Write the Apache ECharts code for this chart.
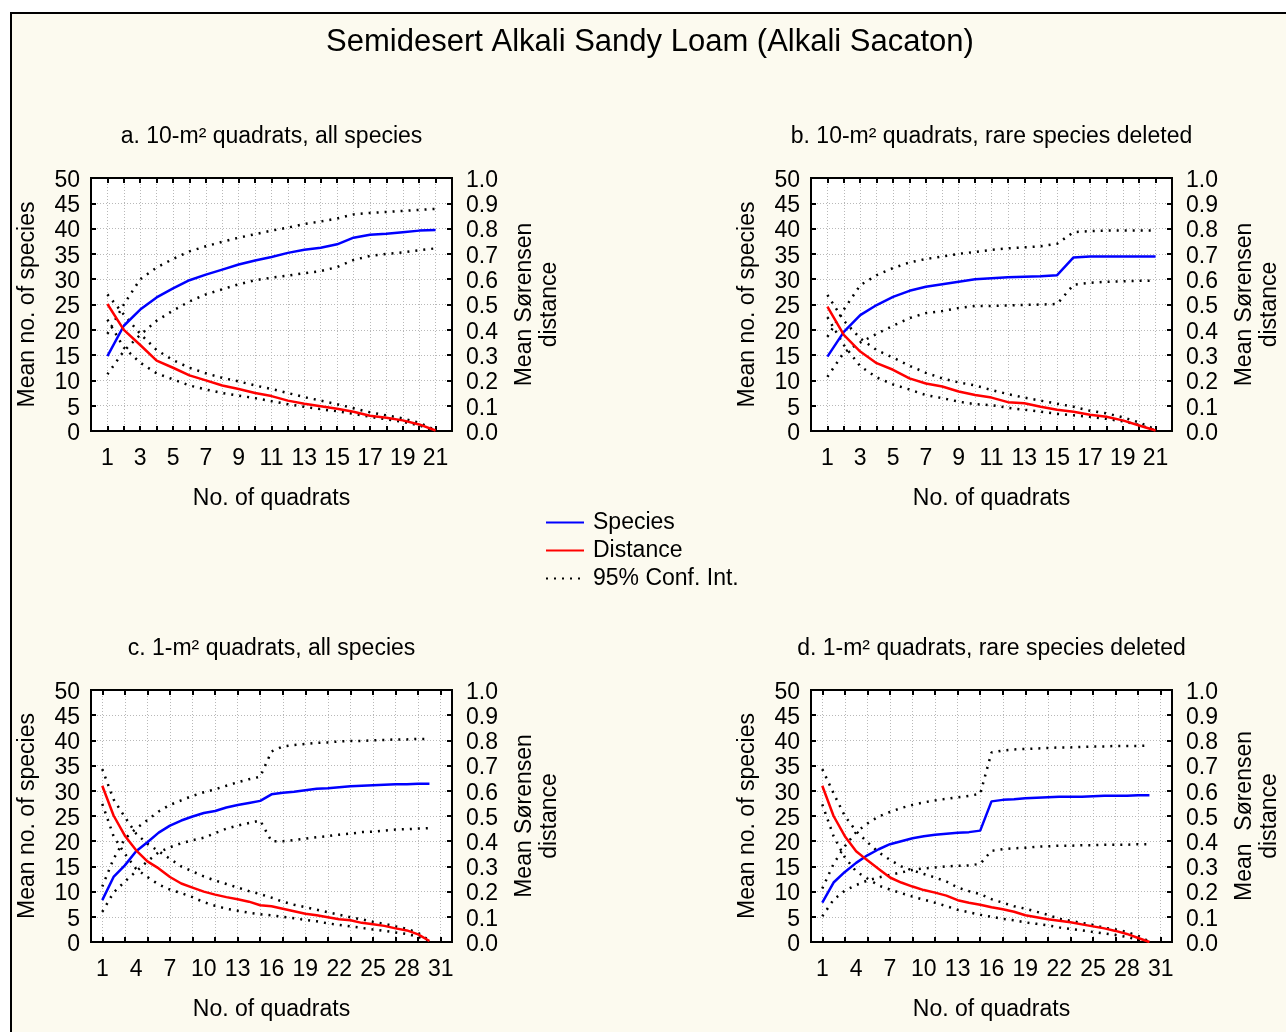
<!DOCTYPE html>
<html><head><meta charset="utf-8">
<script src="https://cdn.jsdelivr.net/npm/echarts@6/dist/echarts.min.js"></script>
<style>html,body{margin:0;padding:0;background:#fff}#chart{width:1286px;height:1032px}</style>
</head><body><div id="chart"></div>
<script>
// ---------- DATA ----------
const quadrats21 = [1,2,3,4,5,6,7,8,9,10,11,12,13,14,15,16,17,18,19,20,21];
const quadrats30 = [1,2,3,4,5,6,7,8,9,10,11,12,13,14,15,16,17,18,19,20,21,22,23,24,25,26,27,28,29,30];
const xLabels21 = [1,3,5,7,9,11,13,15,17,19,21];
const xLabels31 = [1,4,7,10,13,16,19,22,25,28,31];
const xTicks21 = [1,2,3,4,5,6,7,8,9,10,11,12,13,14,15,16,17,18,19,20,21];
const xTicks31 = [1,3,5,7,9,11,13,15,17,19,21,23,25,27,29,31];

const aSpecies = [14.8,20.8,24.0,26.4,28.2,29.8,30.9,31.9,32.9,33.7,34.4,35.2,35.8,36.2,36.9,38.2,38.8,39.0,39.3,39.6,39.7];
const aSpeciesUpper = [19.2,25.0,30.0,32.3,34.0,35.5,36.5,37.4,38.2,38.9,39.6,40.2,40.9,41.4,42.0,42.8,43.1,43.3,43.5,43.7,43.9];
const aSpeciesLower = [11.2,15.8,19.0,21.8,23.8,25.6,27.0,28.0,29.0,29.8,30.3,30.7,31.2,31.6,32.4,33.8,34.6,35.0,35.3,35.7,36.1];
const aDistance = [0.502,0.400,0.340,0.278,0.250,0.220,0.200,0.180,0.166,0.150,0.138,0.120,0.108,0.098,0.088,0.076,0.060,0.052,0.042,0.026,0.002];
const aDistanceUpper = [0.540,0.460,0.384,0.320,0.280,0.250,0.228,0.210,0.196,0.180,0.166,0.150,0.134,0.120,0.106,0.090,0.074,0.062,0.050,0.032,0.004];
const aDistanceLower = [0.440,0.330,0.270,0.228,0.204,0.180,0.164,0.150,0.140,0.130,0.118,0.106,0.096,0.086,0.078,0.068,0.056,0.046,0.036,0.022,0.000];

const bSpecies = [14.7,19.6,22.9,24.9,26.5,27.7,28.5,29.0,29.5,30.0,30.2,30.4,30.5,30.6,30.8,34.3,34.5,34.5,34.5,34.5,34.5];
const bSpeciesUpper = [18.6,24.0,28.8,30.8,32.2,33.3,34.0,34.5,35.0,35.4,35.8,36.1,36.3,36.5,37.0,39.3,39.5,39.6,39.6,39.6,39.6];
const bSpeciesLower = [10.7,15.5,17.5,19.2,20.8,22.3,23.3,23.7,24.3,24.7,24.7,24.8,24.9,25.0,25.1,28.9,29.3,29.5,29.6,29.7,29.7];
const bDistance = [0.492,0.380,0.314,0.268,0.242,0.208,0.188,0.176,0.156,0.142,0.132,0.114,0.110,0.096,0.084,0.076,0.064,0.056,0.042,0.022,0.002];
const bDistanceUpper = [0.538,0.436,0.366,0.320,0.290,0.258,0.230,0.208,0.192,0.180,0.162,0.146,0.132,0.120,0.108,0.096,0.080,0.070,0.054,0.034,0.006];
const bDistanceLower = [0.450,0.340,0.256,0.212,0.184,0.164,0.142,0.130,0.116,0.106,0.102,0.092,0.084,0.076,0.068,0.062,0.056,0.048,0.038,0.024,0.002];

const cSpecies = [8.3,12.9,15.2,18.0,19.8,21.7,23.1,24.1,24.9,25.6,26.0,26.7,27.2,27.6,28.0,29.3,29.6,29.8,30.1,30.4,30.5,30.7,30.9,31.0,31.1,31.2,31.3,31.3,31.4,31.4];
const cSpeciesUpper = [11.0,16.5,20.5,22.5,24.2,25.9,27.2,28.1,29.0,29.7,30.3,31.0,31.7,32.3,32.8,37.8,38.8,39.1,39.3,39.5,39.6,39.8,39.9,39.9,40.0,40.1,40.2,40.2,40.3,40.3];
const cSpeciesLower = [6.0,9.8,12.0,14.0,16.0,17.8,18.8,19.6,20.2,20.7,21.6,22.5,23.1,23.6,24.1,20.0,20.0,20.2,20.5,20.8,21.0,21.3,21.5,21.8,21.9,22.1,22.3,22.4,22.5,22.6];
const cDistance = [0.620,0.502,0.422,0.364,0.320,0.292,0.258,0.232,0.216,0.200,0.188,0.178,0.170,0.160,0.146,0.142,0.132,0.122,0.112,0.106,0.098,0.090,0.086,0.076,0.070,0.064,0.054,0.046,0.030,0.004];
const cDistanceUpper = [0.686,0.566,0.496,0.430,0.390,0.360,0.330,0.300,0.280,0.260,0.244,0.230,0.216,0.202,0.190,0.176,0.160,0.148,0.138,0.128,0.118,0.108,0.098,0.090,0.080,0.072,0.062,0.052,0.036,0.006];
const cDistanceLower = [0.548,0.420,0.350,0.290,0.258,0.228,0.208,0.194,0.178,0.158,0.144,0.132,0.124,0.116,0.110,0.106,0.100,0.094,0.088,0.082,0.074,0.068,0.062,0.056,0.050,0.044,0.038,0.032,0.020,0.002];

const dSpecies = [7.8,11.8,13.9,15.7,17.2,18.4,19.4,20.0,20.6,21.0,21.3,21.5,21.7,21.8,22.1,27.9,28.2,28.3,28.5,28.6,28.7,28.8,28.8,28.8,28.9,29.0,29.0,29.0,29.1,29.1];
const dSpeciesUpper = [10.6,15.5,19.0,21.8,23.5,24.9,25.8,26.6,27.2,27.7,28.1,28.4,28.7,29.0,29.4,37.6,38.0,38.2,38.3,38.4,38.5,38.6,38.6,38.7,38.8,38.8,38.9,38.9,38.9,39.0];
const dSpeciesLower = [5.1,8.4,10.2,11.3,12.2,12.8,13.3,13.8,14.3,14.6,14.8,15.0,15.1,15.2,15.5,18.1,18.4,18.6,18.7,18.9,19.0,19.1,19.1,19.2,19.2,19.3,19.3,19.3,19.4,19.4];
const dDistance = [0.620,0.500,0.420,0.360,0.324,0.290,0.256,0.236,0.220,0.206,0.196,0.184,0.166,0.156,0.148,0.138,0.130,0.120,0.106,0.098,0.090,0.084,0.078,0.070,0.062,0.054,0.044,0.032,0.016,0.000];
const dDistanceUpper = [0.686,0.590,0.500,0.440,0.396,0.356,0.326,0.300,0.284,0.270,0.256,0.240,0.216,0.202,0.190,0.170,0.156,0.142,0.132,0.120,0.108,0.092,0.084,0.076,0.068,0.056,0.050,0.040,0.024,0.002];
const dDistanceLower = [0.546,0.420,0.336,0.280,0.252,0.224,0.208,0.194,0.180,0.168,0.156,0.142,0.128,0.118,0.108,0.100,0.092,0.086,0.078,0.072,0.066,0.058,0.052,0.046,0.040,0.034,0.028,0.020,0.008,0.000];

const mainTitle = 'Semidesert Alkali Sandy Loam (Alkali Sacaton)';
const panelTitles = ['a. 10-m² quadrats, all species','b. 10-m² quadrats, rare species deleted','c. 1-m² quadrats, all species','d. 1-m² quadrats, rare species deleted'];
const leftAxisName = 'Mean no. of species';
const rightAxisNames = ['Mean Sørensen\ndistance','Mean Sørensen\ndistance','Mean Sørensen\ndistance','Mean  Sørensen\ndistance'];
const xAxisName = 'No. of quadrats';
const legendNames = ['Species','Distance','95% Conf. Int.'];

// ---------- BUILD ----------
const FONT = "'Liberation Sans', Arial, Helvetica, sans-serif";
const panels = [
  {x: quadrats21, max: 22, labels: xLabels21, ticks: xTicks21, sp: aSpecies, spU: aSpeciesUpper, spL: aSpeciesLower, d: aDistance, dU: aDistanceUpper, dL: aDistanceLower, left: 91, top: 178, h: 253},
  {x: quadrats21, max: 22, labels: xLabels21, ticks: xTicks21, sp: bSpecies, spU: bSpeciesUpper, spL: bSpeciesLower, d: bDistance, dU: bDistanceUpper, dL: bDistanceLower, left: 811, top: 178, h: 253},
  {x: quadrats30, max: 32, labels: xLabels31, ticks: xTicks31, sp: cSpecies, spU: cSpeciesUpper, spL: cSpeciesLower, d: cDistance, dU: cDistanceUpper, dL: cDistanceLower, left: 91, top: 690, h: 252},
  {x: quadrats30, max: 32, labels: xLabels31, ticks: xTicks31, sp: dSpecies, spU: dSpeciesUpper, spL: dSpeciesLower, d: dDistance, dU: dDistanceUpper, dL: dDistanceLower, left: 811, top: 690, h: 252}
];
const W = 361;
const txt = {color: '#000', fontSize: 23, fontFamily: FONT};
const yRich = {t: {color: '#000', fontSize: 23, fontFamily: FONT, padding: [5, 0, 0, 0]}};
const gridLine = {show: true, lineStyle: {color: '#b8b8b8', width: 1, type: [1, 2]}};
const axisLine = {show: true, onZero: false, lineStyle: {color: '#000', width: 2}};
const tick = {show: true, inside: true, length: 5, lineStyle: {color: '#000', width: 2}};

const grid = [], xAxis = [], yAxis = [], series = [], graphic = [];
graphic.push({type: 'rect', z: -100, shape: {x: 11, y: 13, width: 1400, height: 1100}, style: {fill: '#fcfaef', stroke: '#000', lineWidth: 2}});
graphic.push({type: 'text', x: 650, y: 42, style: {text: mainTitle, font: '31px ' + FONT, fill: '#000', align: 'center', verticalAlign: 'middle', textAlign: 'center', textVerticalAlign: 'middle'}});

panels.forEach((p, i) => {
  const cats = [];
  for (let k = 0; k <= p.max; k++) cats.push(String(k));
  grid.push({left: p.left, top: p.top, width: W, height: p.h, show: true, backgroundColor: '#fff', borderColor: '#000', borderWidth: 2});
  const isTick = (idx, val) => p.ticks.includes(+val);
  xAxis.push({type: 'category', gridIndex: i, data: cats, boundaryGap: false, position: 'bottom',
    axisLine, axisTick: Object.assign({}, tick, {interval: isTick}),
    axisLabel: Object.assign({}, txt, {margin: 16, interval: (idx, val) => p.labels.includes(+val)}),
    splitLine: Object.assign({}, gridLine, {interval: isTick}),
    name: xAxisName, nameLocation: 'middle', nameGap: 56, nameTextStyle: txt});
  xAxis.push({type: 'category', gridIndex: i, data: cats, boundaryGap: false, position: 'top',
    axisLine, axisTick: Object.assign({}, tick, {interval: isTick}), axisLabel: {show: false}, splitLine: {show: false}});
  yAxis.push({type: 'value', gridIndex: i, min: 0, max: 50, interval: 5, position: 'left',
    axisLine, axisTick: tick, axisLabel: {margin: 11, formatter: v => '{t|' + v + '}', rich: yRich}, splitLine: gridLine,
    name: leftAxisName, nameLocation: 'middle', nameGap: 52, nameRotate: 90, nameTextStyle: txt});
  yAxis.push({type: 'value', gridIndex: i, min: 0, max: 1, interval: 0.1, position: 'right',
    axisLine, axisTick: tick, axisLabel: {margin: 14, formatter: v => '{t|' + v.toFixed(1) + '}', rich: yRich}, splitLine: {show: false},
    name: rightAxisNames[i], nameLocation: 'middle', nameGap: 60, nameRotate: 90, nameTextStyle: Object.assign({}, txt, {lineHeight: 25})});
  const ci = (arr, yi) => ({type: 'line', name: legendNames[2], xAxisIndex: 2 * i, yAxisIndex: yi, symbol: 'none',
    data: p.x.map((x, k) => [x, arr[k]]), lineStyle: {color: '#000', width: 2.5, type: [2, 6]}, itemStyle: {color: '#000', opacity: 0}, z: 3, silent: true});
  series.push(ci(p.spU, 2 * i), ci(p.spL, 2 * i), ci(p.dU, 2 * i + 1), ci(p.dL, 2 * i + 1));
  series.push({type: 'line', name: legendNames[0], xAxisIndex: 2 * i, yAxisIndex: 2 * i, symbol: 'none',
    data: p.x.map((x, k) => [x, p.sp[k]]), lineStyle: {color: '#0000ff', width: 2.5}, itemStyle: {color: '#0000ff', opacity: 0}, z: 4, silent: true});
  series.push({type: 'line', name: legendNames[1], xAxisIndex: 2 * i, yAxisIndex: 2 * i + 1, symbol: 'none',
    data: p.x.map((x, k) => [x, p.d[k]]), lineStyle: {color: '#ff0000', width: 2.5}, itemStyle: {color: '#ff0000', opacity: 0}, z: 5, silent: true});
  graphic.push({type: 'text', x: p.left + W / 2, y: p.top - 41, style: {text: panelTitles[i], font: '23px ' + FONT, fill: '#000', align: 'center', verticalAlign: 'middle', textAlign: 'center', textVerticalAlign: 'middle'}});
});

const chart = echarts.init(document.getElementById('chart'), null, {renderer: 'canvas'});
chart.setOption({
  backgroundColor: '#fff',
  animation: false,
  grid, xAxis, yAxis, series, graphic,
  legend: {orient: 'vertical', left: 545, top: 511, padding: 0, itemWidth: 38, itemHeight: 20, itemGap: 5,
    itemStyle: {opacity: 0},
    data: legendNames, textStyle: Object.assign({}, txt, {padding: [0, 0, 0, 4]}), selectedMode: false}
});
</script></body></html>
